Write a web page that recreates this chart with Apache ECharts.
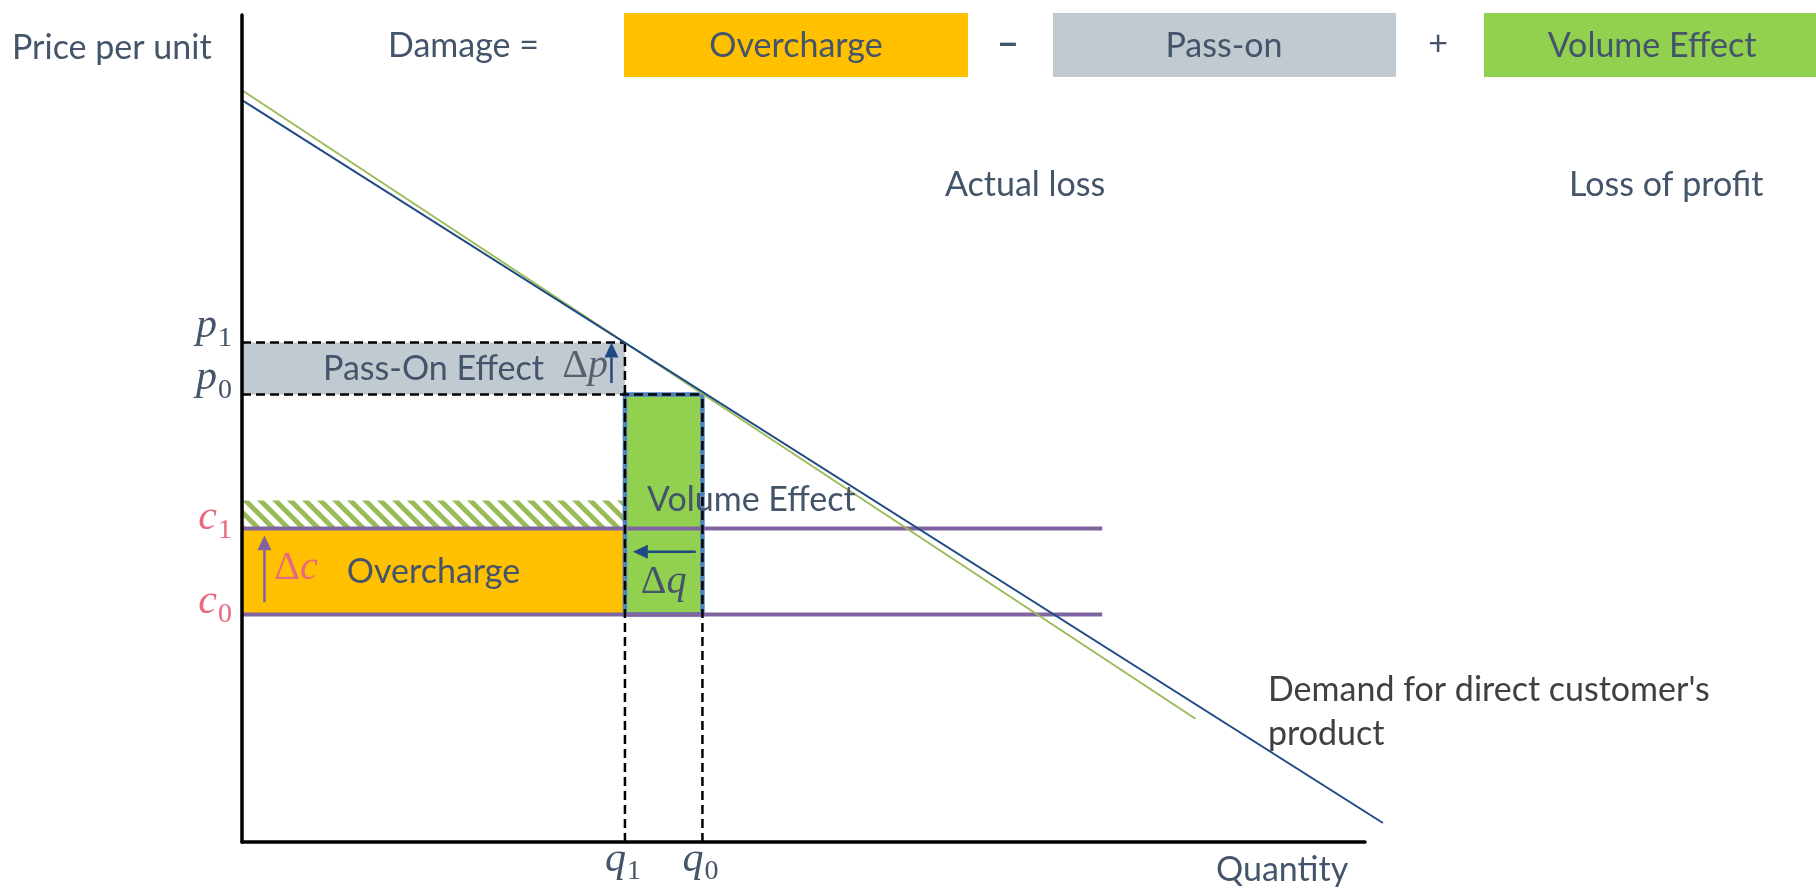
<!DOCTYPE html>
<html>
<head>
<meta charset="utf-8">
<script src="https://cdn.jsdelivr.net/npm/echarts@6/dist/echarts.min.js"></script>
<style>
  html, body { margin: 0; padding: 0; background: #ffffff; }
  #chart { width: 1816px; height: 893px; }
</style>
</head>
<body>
<div id="chart"></div>
<script>
// ---- Economic levels (axis units 0..100) ----
const quantityLevels = [34.1, 41.0];      // q1 (after overcharge), q0 (before)
const priceLevels = [60.4, 54.1];         // p1, p0
const costLevels = [37.9, 27.5];          // c1, c0
const levelSubscripts = ['1', '0'];
const hatchTop = 41.3;                    // top of the striped band above c1
const costLineEnd = 76.6;                 // how far the cost lines run
const demandCurve = [[0, 89.7], [101.6, 2.3]];
const shiftedDemandCurve = [[0, 90.9], [84.9, 14.9]];
const damageTerms = ['Overcharge', 'Pass-on', 'Volume Effect'];
const damageOperators = ['\u2212', '+'];
const lossHeadings = ['Actual loss', 'Loss of profit'];

// ---- Styling ----
const TEXT = '#44546A';
const ORANGE = '#FFC000';
const GRAY = '#C1C9D1';
const GREEN = '#92D050';
const NAVY = '#1F4A84';
const PURPLE = '#8064A2';
const PINK = '#E8697D';
const BORDER_BLUE = '#4F81BD';
const OLIVE = '#9BBB59';
const SANS = 'Lato';
const SERIF = '"Liberation Serif"';

const [q1, q0] = quantityLevels;
const [p1, p0] = priceLevels;
const [c1, c0] = costLevels;

// diagonal stripe tile for the band above c1
function makeHatch() {
  const cv = document.createElement('canvas');
  cv.width = 15; cv.height = 15;
  const g = cv.getContext('2d');
  g.strokeStyle = OLIVE;
  g.lineWidth = 5;
  for (const o of [-15, 0, 15]) {
    g.beginPath();
    g.moveTo(o - 5, -5);
    g.lineTo(o + 20, 20);
    g.stroke();
  }
  return cv;
}
const hatchFill = { image: makeHatch(), repeat: 'repeat' };

const areas = [
  { x0: 0, y0: p0, x1: q1, y1: p1, fill: GRAY },
  { x0: 0, y0: c0, x1: q1, y1: c1, fill: ORANGE },
  { x0: 0, y0: c1, x1: q1, y1: hatchTop, fill: hatchFill },
  { x0: q1, y0: c0, x1: q0, y1: p0, fill: GREEN, stroke: BORDER_BLUE }
];

const arrows = [
  { from: [q1 - 1.2, p0 + 1.4], to: [q1 - 1.2, p1], color: NAVY },
  { from: [2.0, c0 + 1.5], to: [2.0, c1 - 0.8], color: PURPLE },
  { from: [q0 - 0.6, c1 - 2.8], to: [q1 + 0.7, c1 - 2.8], color: NAVY }
];

const curves = [
  { points: shiftedDemandCurve, color: OLIVE },
  { points: demandCurve, color: NAVY }
];

function txt(x, y, text, opts) {
  const o = Object.assign({ size: 34, family: SANS, style: 'normal', weight: 'normal', color: TEXT, align: 'left', vAlign: 'middle' }, opts || {});
  return {
    type: 'text', x: x, y: y,
    style: {
      text: text, fontSize: o.size, fontFamily: o.family, fontStyle: o.style, fontWeight: o.weight,
      fill: o.color, align: o.align, textAlign: o.align,
      verticalAlign: o.vAlign, textVerticalAlign: o.vAlign,
      rich: o.rich
    }
  };
}

// math-style level label: italic letter with upright subscript
function levelLabel(letter, digit, color, side, shift) {
  const s = shift || 0;
  return function (pt) {
    if (side === 'left') {
      return [
        txt(pt[0] - 25, pt[1] - 17 + s, letter, { size: 42, family: SERIF, style: 'italic', color: color, align: 'right' }),
        txt(pt[0] - 24, pt[1] - 4 + s, digit, { size: 28, family: SERIF, color: color })
      ];
    }
    return [
      txt(pt[0] + 1, pt[1] + 18, letter, { size: 42, family: SERIF, style: 'italic', color: color, align: 'right' }),
      txt(pt[0] + 2, pt[1] + 30, digit, { size: 28, family: SERIF, color: color })
    ];
  };
}

function deltaLabel(letter, color, dx, dy, align) {
  return function (pt) {
    return [txt(pt[0] + dx, pt[1] + dy, '{d|\u0394}{v|' + letter + '}', {
      align: align, color: color,
      rich: {
        d: { fontFamily: SERIF, fontSize: 40, fill: color },
        v: { fontFamily: SERIF, fontSize: 40, fontStyle: 'italic', fill: color }
      }
    })];
  };
}

const labelDefs = [
  { at: [0, p1], make: levelLabel('p', levelSubscripts[0], TEXT, 'left', 0) },
  { at: [0, p0], make: levelLabel('p', levelSubscripts[1], TEXT, 'left', 0) },
  { at: [0, c1], make: levelLabel('c', levelSubscripts[0], PINK, 'left', 6) },
  { at: [0, c0], make: levelLabel('c', levelSubscripts[1], PINK, 'left', 4) },
  { at: [q1, 0], make: levelLabel('q', levelSubscripts[0], TEXT, 'bottom') },
  { at: [q0, 0], make: levelLabel('q', levelSubscripts[1], TEXT, 'bottom') },
  { at: [q1 / 2, (p0 + p1) / 2], make: pt => [txt(pt[0], pt[1], 'Pass-On Effect', { align: 'center' })] },
  { at: [q1 / 2, (c0 + c1) / 2], make: pt => [txt(pt[0], pt[1], 'Overcharge', { align: 'center' })] },
  { at: [q1, hatchTop], make: pt => [txt(pt[0] + 22, pt[1], 'Volume Effect')] },
  { at: [q1, (p0 + p1) / 2], make: deltaLabel('p', '#55626E', -17, -2, 'right') },
  { at: [(q1 + q0) / 2, c0], make: deltaLabel('q', TEXT, 0, -32, 'center') },
  { at: [0, (c0 + c1) / 2], make: deltaLabel('c', PINK, 54, -3, 'center') }
];

function hLine(y, x0, x1) { return [[x0, y], [x1, y]]; }
function vLine(x, y0, y1) { return [[x, y0], [x, y1]]; }

function plainLine(data, color, width, z, dash) {
  return {
    type: 'line', data: data, symbol: 'none', silent: true, z: z, clip: false,
    lineStyle: { color: color, width: width, type: dash || 'solid' }
  };
}

const DASH = [9, 5];

const chart = echarts.init(document.getElementById('chart'));
chart.setOption({
  animation: false,
  backgroundColor: '#ffffff',
  grid: { left: 242, right: 451, top: 15, bottom: 51 },
  xAxis: {
    type: 'value', min: 0, max: 100, z: 10,
    axisLine: { show: true, onZero: false, lineStyle: { color: '#000', width: 3.5 } },
    axisTick: { show: false }, axisLabel: { show: false }, splitLine: { show: false }
  },
  yAxis: {
    type: 'value', min: 0, max: 100, z: 10,
    axisLine: { show: true, onZero: false, lineStyle: { color: '#000', width: 3.5 } },
    axisTick: { show: false }, axisLabel: { show: false }, splitLine: { show: false }
  },
  graphic: [
    txt(12, 48, 'Price per unit'),
    txt(388, 46, 'Damage ='),
    { type: 'rect', shape: { x: 624, y: 13, width: 344, height: 64 }, style: { fill: ORANGE } },
    { type: 'rect', shape: { x: 1053, y: 13, width: 343, height: 64 }, style: { fill: GRAY } },
    { type: 'rect', shape: { x: 1484, y: 13, width: 332, height: 64 }, style: { fill: GREEN } },
    txt(796, 46, damageTerms[0], { align: 'center' }),
    txt(1224, 46, damageTerms[1], { align: 'center' }),
    txt(1652, 46, damageTerms[2], { align: 'center' }),
    txt(1008, 45, damageOperators[0], { align: 'center', weight: 'bold', size: 36 }),
    txt(1438, 44, damageOperators[1], { align: 'center' }),
    txt(945, 185, lossHeadings[0]),
    txt(1569, 185, lossHeadings[1]),
    txt(1216, 870, 'Quantity'),
    {
      type: 'text', x: 1268, y: 668,
      style: {
        text: "Demand for direct customer's\nproduct", fontSize: 34, fontFamily: SANS,
        fill: '#404040', lineHeight: 44, align: 'left', textAlign: 'left',
        verticalAlign: 'top', textVerticalAlign: 'top'
      }
    }
  ],
  series: [
    {
      type: 'custom', name: 'areas', coordinateSystem: 'cartesian2d', silent: true, z: 1, clip: false,
      data: areas.map((a, i) => [a.x0, a.y0, a.x1, a.y1, i]),
      renderItem: function (params, api) {
        const a = areas[api.value(4)];
        const s = api.coord([api.value(0), api.value(1)]);
        const e = api.coord([api.value(2), api.value(3)]);
        return {
          type: 'rect',
          shape: { x: Math.min(s[0], e[0]), y: Math.min(s[1], e[1]), width: Math.abs(e[0] - s[0]), height: Math.abs(e[1] - s[1]) },
          style: { fill: a.fill, stroke: a.stroke || null, lineWidth: a.stroke ? 4.5 : 0 }
        };
      }
    },
    plainLine(hLine(c1, 0, costLineEnd), PURPLE, 4, 3),
    plainLine(hLine(c0, 0, costLineEnd), PURPLE, 4, 3),
    plainLine(hLine(p1, 0, q1), '#000', 2.5, 4, DASH),
    plainLine(hLine(p0, 0, q0), '#000', 2.5, 4, DASH),
    plainLine(vLine(q1, 0, p1), '#000', 2.5, 4, DASH),
    plainLine(vLine(q0, 0, p0), '#000', 2.5, 4, DASH),
    {
      // demand curves, allowed to run a little past the end of the quantity axis
      type: 'custom', name: 'demand', coordinateSystem: 'cartesian2d', silent: true, z: 5, clip: false,
      data: curves.map((c, i) => [c.points[0][0], c.points[0][1], c.points[1][0], c.points[1][1], i]),
      renderItem: function (params, api) {
        const c = curves[api.value(4)];
        const s = api.coord([api.value(0), api.value(1)]);
        const e = api.coord([api.value(2), api.value(3)]);
        return { type: 'line', shape: { x1: s[0], y1: s[1], x2: e[0], y2: e[1] }, style: { stroke: c.color, lineWidth: 2 } };
      }
    },
    {
      type: 'custom', name: 'arrows', coordinateSystem: 'cartesian2d', silent: true, z: 6, clip: false,
      data: arrows.map((a, i) => [a.from[0], a.from[1], a.to[0], a.to[1], i]),
      renderItem: function (params, api) {
        const a = arrows[api.value(4)];
        const s = api.coord([api.value(0), api.value(1)]);
        const e = api.coord([api.value(2), api.value(3)]);
        const dx = e[0] - s[0], dy = e[1] - s[1];
        const len = Math.sqrt(dx * dx + dy * dy);
        const ux = dx / len, uy = dy / len;
        const head = 15, half = 7;
        const bx = e[0] - ux * head, by = e[1] - uy * head;
        return {
          type: 'group',
          children: [
            { type: 'line', shape: { x1: s[0], y1: s[1], x2: bx, y2: by }, style: { stroke: a.color, lineWidth: 2.5 } },
            { type: 'polygon', shape: { points: [[e[0], e[1]], [bx - uy * half, by + ux * half], [bx + uy * half, by - ux * half]] }, style: { fill: a.color } }
          ]
        };
      }
    },
    {
      type: 'custom', name: 'labels', coordinateSystem: 'cartesian2d', silent: true, z: 7, clip: false,
      data: labelDefs.map((d, i) => [d.at[0], d.at[1], i]),
      renderItem: function (params, api) {
        const d = labelDefs[api.value(2)];
        const pt = api.coord([api.value(0), api.value(1)]);
        return { type: 'group', children: d.make(pt) };
      }
    }
  ]
});
</script>
</body>
</html>
